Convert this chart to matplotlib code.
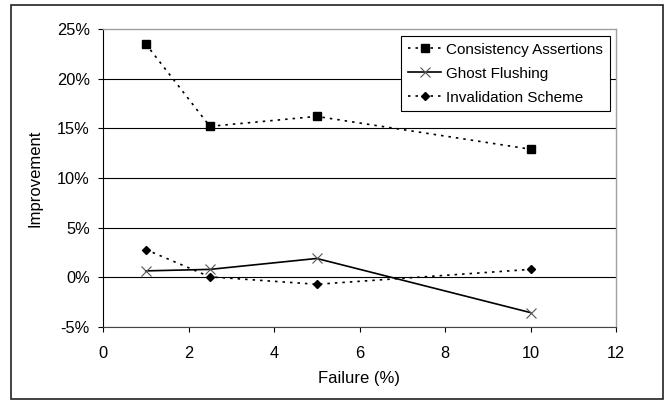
import matplotlib
matplotlib.use("Agg")
from matplotlib import pyplot as plt
from matplotlib.patches import Rectangle
from matplotlib.ticker import FuncFormatter

plt.rcParams['font.family'] = ['Liberation Sans', 'DejaVu Sans']

failure = [1, 2.5, 5, 10]
consistency = [23.5, 15.2, 16.2, 12.9]
ghost = [0.65, 0.8, 1.9, -3.55]
invalidation = [2.8, 0.05, -0.7, 0.8]

fig = plt.figure(figsize=(6.72, 4.03), dpi=100)
ax = fig.add_axes([103 / 672, 76 / 403, 513 / 672, 298 / 403])

# outer chart border
fig.patches.append(Rectangle((10.5 / 672, 4.5 / 403), 652 / 672, 394 / 403,
                             transform=fig.transFigure, fill=False,
                             edgecolor="#222222", linewidth=1.2))

dots = (0, (1.5, 3))
ax.plot(failure, consistency, linestyle=dots, color="black",
        marker="s", markersize=5.2, linewidth=1.2, label="Consistency Assertions")
ax.plot(failure, ghost, linestyle="-", color="black", marker="x",
        markersize=6.5, markeredgecolor="#555555", markeredgewidth=0.8,
        linewidth=1.2, label="Ghost Flushing")
ax.plot(failure, invalidation, linestyle=dots, color="black",
        marker="D", markersize=4.5, linewidth=1.2, label="Invalidation Scheme")

ax.set_xlim(0, 12)
ax.set_ylim(-5, 25)
ax.set_xticks(range(0, 13, 2))
ax.set_yticks(range(-5, 26, 5))
ax.yaxis.set_major_formatter(FuncFormatter(lambda v, p: "%d%%" % v))
ax.grid(axis="y", color="black", linewidth=0.8)
ax.get_ygridlines()[-1].set_visible(False)
ax.set_axisbelow(True)
for side in ["top", "right"]:
    ax.spines[side].set_color("#a0a0a0")
    ax.spines[side].set_linewidth(1.0)
ax.spines["bottom"].set_color("#444444")
ax.tick_params(labelsize=11.8, direction="out", length=3.6, width=0.8)
ax.tick_params(axis="x", pad=10)
ax.tick_params(axis="y", pad=6)
ax.set_xlabel("Failure (%)", fontsize=12, labelpad=7)
ax.set_ylabel("Improvement", fontsize=12, labelpad=10)

leg = ax.legend(loc="upper right", bbox_to_anchor=(0.988, 0.977),
                fontsize=11, frameon=True, fancybox=False,
                handlelength=2.15, handletextpad=0.33, borderpad=0.45,
                labelspacing=0.65, borderaxespad=0)
leg.get_frame().set_edgecolor("black")
leg.get_frame().set_linewidth(0.8)
leg.get_frame().set_alpha(1)

plt.savefig("out.png", dpi=100)
